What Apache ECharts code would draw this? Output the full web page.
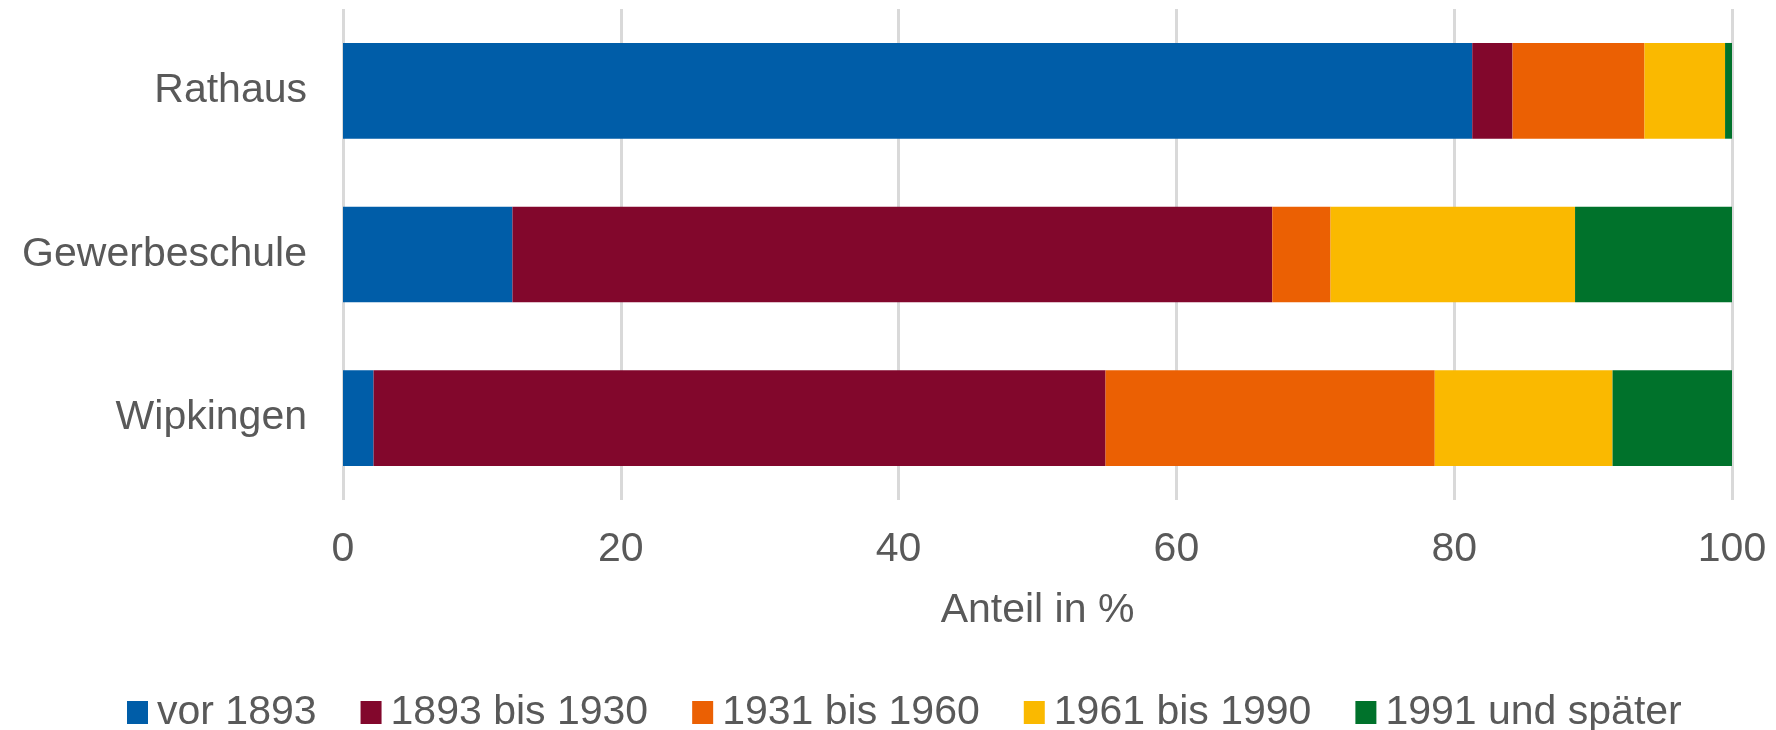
<!DOCTYPE html>
<html>
<head>
<meta charset="utf-8">
<script src="https://cdn.jsdelivr.net/npm/echarts@6/dist/echarts.min.js"></script>
<style>html,body{margin:0;padding:0;background:#fff}#c{width:1776px;height:730px}</style>
</head>
<body>
<div id="c"></div>
<script>
const categories = ["Rathaus", "Gewerbeschule", "Wipkingen"];
const seriesNames = ["vor 1893", "1893 bis 1930", "1931 bis 1960", "1961 bis 1990", "1991 und später"];
const vor1893 = [81.3, 12.2, 2.2];
const bis1930 = [2.9, 54.7, 52.7];
const bis1960 = [9.5, 4.2, 23.7];
const bis1990 = [5.8, 17.6, 12.8];
const ab1991 = [0.5, 11.3, 8.6];
const xTicks = [0, 20, 40, 60, 80, 100];
const colors = ["#005DA8", "#82072C", "#EB6003", "#FAB900", "#00722B"];

const values = [vor1893, bis1930, bis1960, bis1990, ab1991];
const font = "'Liberation Sans', Arial, sans-serif";
const textColor = "#595959";

const chart = echarts.init(document.getElementById('c'), null, {renderer: 'canvas'});
chart.setOption({
  animation: false,
  color: colors,
  grid: {left: 343, right: 44, top: 9, bottom: 230, containLabel: false},
  legend: {
    data: seriesNames,
    left: 122,
    top: 687,
    itemWidth: 21,
    itemHeight: 23,
    itemGap: 44,
    icon: 'rect',
    textStyle: {fontSize: 41, color: textColor, fontFamily: font, padding: [0, 0, 0, 4]}
  },
  xAxis: {
    type: 'value',
    min: xTicks[0],
    max: xTicks[xTicks.length - 1],
    interval: xTicks[1] - xTicks[0],
    name: 'Anteil in %',
    nameLocation: 'middle',
    nameGap: 90,
    nameTextStyle: {fontSize: 41, color: textColor, fontFamily: font},
    axisLine: {show: false},
    axisTick: {show: false},
    axisLabel: {fontSize: 41, color: textColor, fontFamily: font, margin: 29},
    splitLine: {show: true, lineStyle: {color: '#D9D9D9', width: 3}}
  },
  yAxis: {
    type: 'category',
    data: categories,
    inverse: true,
    axisLine: {show: false},
    axisTick: {show: false},
    axisLabel: {fontSize: 41, color: textColor, fontFamily: font, margin: 36}
  },
  series: seriesNames.map((n, i) => ({
    name: n,
    type: 'bar',
    stack: 'total',
    barCategoryGap: '41.5%',
    data: values[i]
  }))
});
</script>
</body>
</html>
